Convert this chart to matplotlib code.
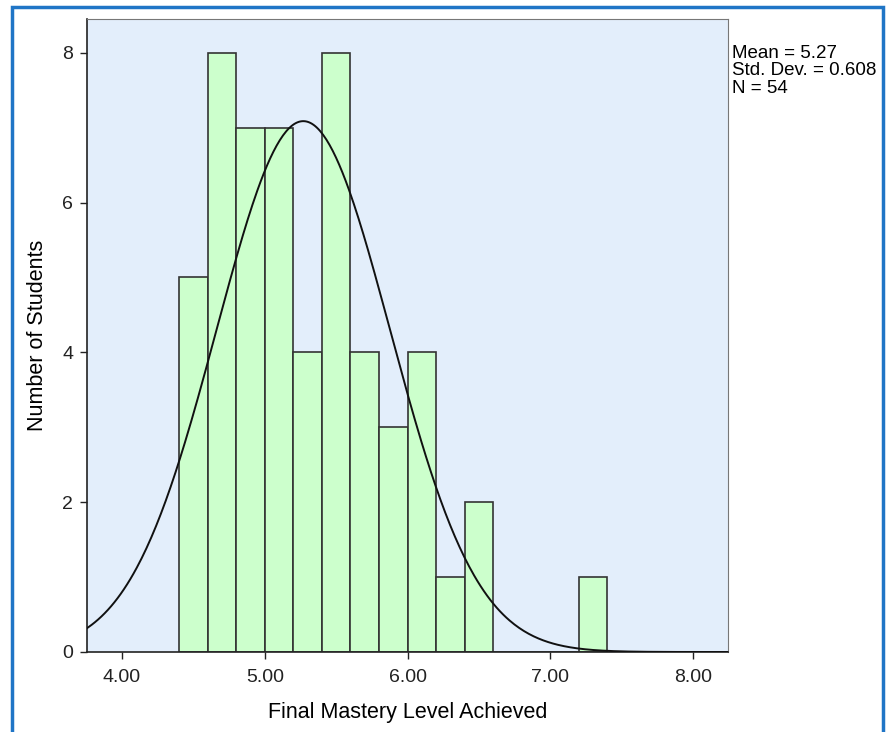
import numpy as np
import matplotlib
matplotlib.use("Agg")
import matplotlib.pyplot as plt
from matplotlib.patches import Rectangle

plt.rcParams['font.family'] = ['Liberation Sans', 'DejaVu Sans']

bin_edges = [4.4, 4.6, 4.8, 5.0, 5.2, 5.4, 5.6, 5.8, 6.0, 6.2, 6.4, 6.6, 6.8, 7.0, 7.2, 7.4]
counts = [5, 8, 7, 7, 4, 8, 4, 3, 4, 1, 2, 0, 0, 0, 1]
mean = 5.27
std = 0.608
n = 54
xticks = [4.0, 5.0, 6.0, 7.0, 8.0]
yticks = [0, 2, 4, 6, 8]

fig = plt.figure(figsize=(8.91, 7.32), dpi=100)
fig.patch.set_facecolor('white')
fig.patches.append(Rectangle((12/891, -0.05), (883-12)/891, (732-7)/732 + 0.05,
                             transform=fig.transFigure, fill=False,
                             edgecolor='#1f75c6', linewidth=2.5))

ax = fig.add_axes([87/891, 80/732, (728-87)/891, (652-19)/732])
ax.set_facecolor('#e3eefb')

widths = np.diff(bin_edges)
ax.bar(bin_edges[:-1], counts, width=widths, align='edge',
       color='#ccffcc', edgecolor='#333333', linewidth=1.2, zorder=2)

xs = np.linspace(3.755, 8.245, 400)
bw = 0.2
ys = n * bw / (std * np.sqrt(2 * np.pi)) * np.exp(-0.5 * ((xs - mean) / std) ** 2)
ax.plot(xs, ys, color='#111111', linewidth=1.4, zorder=3)

ax.set_xlim(3.755, 8.245)
ax.set_ylim(0, 8.45)
ax.set_xticks(xticks)
ax.set_xticklabels([f"{v:.2f}" for v in xticks], fontsize=14)
ax.set_yticks(yticks)
ax.set_yticklabels([str(v) for v in yticks], fontsize=14)
ax.tick_params(direction='out', length=5, width=1, colors='#222222')
ax.tick_params(axis='x', pad=7)
ax.tick_params(axis='y', pad=5)
for s in ['top', 'right']:
    ax.spines[s].set_color('#777777')
for s in ['left', 'bottom']:
    ax.spines[s].set_color('#222222')
    ax.spines[s].set_linewidth(1.2)

ax.set_xlabel('Final Mastery Level Achieved', fontsize=15.5, labelpad=12)
ax.set_ylabel('Number of Students', fontsize=15.5, labelpad=10)

fig.text(732/891, 1 - 45/732, f"Mean = {mean:.2f}\nStd. Dev. = {std:.3f}\nN = {n}",
         fontsize=13.5, va='top', ha='left', linespacing=1.02)

fig.savefig('out.png', dpi=100)
